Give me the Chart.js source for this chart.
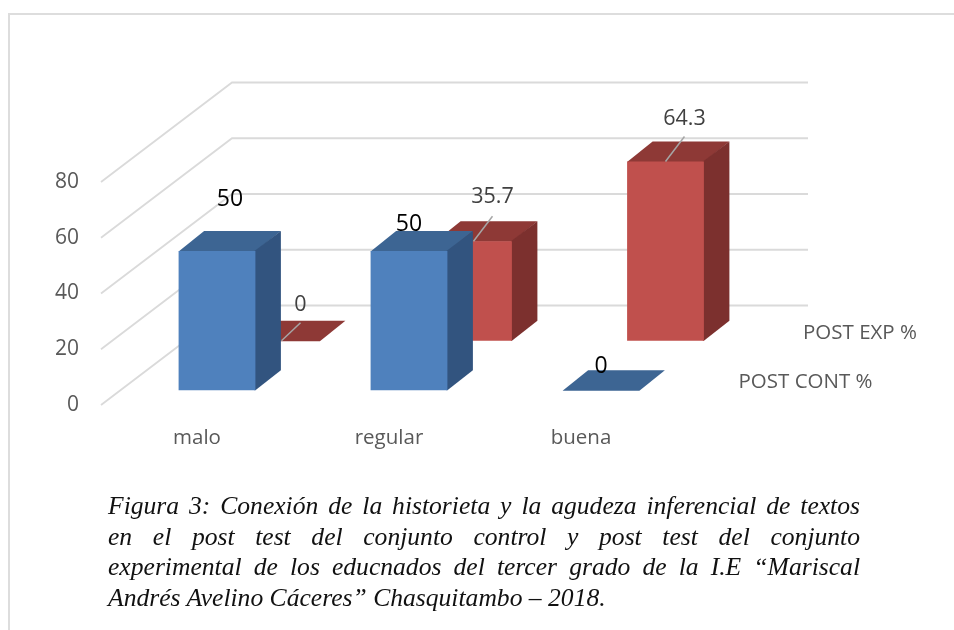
<!DOCTYPE html>
<html lang="es">
<head>
<meta charset="utf-8">
<script src="https://cdn.jsdelivr.net/npm/chart.js@4/dist/chart.umd.min.js"></script>
<style>
html,body{margin:0;padding:0;background:#fff;width:954px;height:630px;overflow:hidden}
#frame{position:absolute;left:8px;top:13px;right:0;bottom:0;border-left:2px solid #dddddd;border-top:2px solid #dddddd}
canvas{position:absolute;left:0;top:0}
#caption{position:absolute;left:108px;top:491px;width:752px;font:italic 25.6px/30.6px "Liberation Serif",serif;color:#111}
#caption div{text-align:justify;text-align-last:justify;white-space:nowrap}
#caption div:last-child{text-align-last:left}
</style>
</head>
<body>
<div id="frame"></div>
<canvas id="c" width="954" height="630"></canvas>
<div id="caption">
<div>Figura 3: Conexión de la historieta y la agudeza inferencial de textos</div>
<div>en el post test del conjunto control y post test del conjunto</div>
<div>experimental de los educnados del tercer grado de la I.E “Mariscal</div>
<div>Andrés Avelino Cáceres” Chasquitambo – 2018.</div>
</div>
<script>
const categories = ["malo", "regular", "buena"];
const postCont = [50, 50, 0];
const postExp = [0, 35.7, 64.3];
const yTicks = [0, 20, 40, 60, 80];
const seriesNames = ["POST CONT %", "POST EXP %"];

const wall = {dx: 131, dy: -99.5};
const barDepth = {dx: 25.5, dy: -20};
const styles = [
  {shift: {dx: 20, dy: -14.7}, front: "#4F81BD", side: "#32547F", top: "#3D6593", label: "#000000"},
  {shift: {dx: 84.5, dy: -64.3}, front: "#C0504D", side: "#7C302E", top: "#8E3936", label: "#404040"}
];
// Label offsets from the top-centre of each bar's front face
const labelOffsets = [
  [{x: 13, y: -51, }, {x: 0, y: -26}, {x: 0, y: -24}],
  [{x: 19, y: -36, lx: 19, ly: -18}, {x: 19, y: -44, lx: 19, ly: -25}, {x: 19, y: -43, lx: 19, ly: -25}]
];
const FONT = '"Open Sans", sans-serif';
const GREY = "#595959";

const bars3d = {
  id: "bars3d",
  beforeDatasetsDraw(chart) {
    const {ctx, scales: {x, y}} = chart;
    ctx.save();
    ctx.strokeStyle = "#DADADA";
    ctx.lineWidth = 1.8;
    yTicks.forEach(t => {
      const py = y.getPixelForValue(t);
      ctx.beginPath();
      ctx.moveTo(x.left, py);
      ctx.lineTo(x.left + wall.dx, py + wall.dy);
      ctx.lineTo(x.right + wall.dx, py + wall.dy);
      ctx.stroke();
    });
    ctx.restore();
  },
  beforeDatasetDraw(chart, args) {
    const {ctx} = chart;
    const st = styles[args.index];
    ctx.save();
    ctx.translate(st.shift.dx, st.shift.dy);
    args.meta.data.forEach(bar => {
      const p = bar.getProps(["x", "y", "base", "width"], true);
      const l = p.x - p.width / 2, r = p.x + p.width / 2;
      ctx.fillStyle = st.top;
      ctx.beginPath();
      ctx.moveTo(l, p.y + 0.5);
      ctx.lineTo(r, p.y + 0.5);
      ctx.lineTo(r + barDepth.dx, p.y + barDepth.dy);
      ctx.lineTo(l + barDepth.dx, p.y + barDepth.dy);
      ctx.closePath();
      ctx.fill();
      if (p.base - p.y > 0.5) {
        ctx.fillStyle = st.side;
        ctx.beginPath();
        ctx.moveTo(r - 1, p.y);
        ctx.lineTo(r + barDepth.dx, p.y + barDepth.dy);
        ctx.lineTo(r + barDepth.dx, p.base + barDepth.dy);
        ctx.lineTo(r, p.base);
        ctx.lineTo(r - 1, p.base);
        ctx.closePath();
        ctx.fill();
      }
    });
  },
  afterDatasetDraw(chart) {
    chart.ctx.restore();
  },
  afterDatasetsDraw(chart) {
    const {ctx, scales: {x}} = chart;
    ctx.save();
    ctx.textAlign = "center";
    ctx.textBaseline = "middle";
    chart.data.datasets.forEach((ds, i) => {
      const st = styles[i];
      chart.getDatasetMeta(i).data.forEach((bar, j) => {
        const p = bar.getProps(["x", "y"], true);
        const cx = p.x + st.shift.dx, cy = p.y + st.shift.dy;
        const o = labelOffsets[i][j];
        if (o.lx !== undefined) {
          ctx.strokeStyle = "#A6A6A6";
          ctx.lineWidth = 1.5;
          ctx.beginPath();
          ctx.moveTo(cx, cy);
          ctx.lineTo(cx + o.lx, cy + o.ly);
          ctx.stroke();
        }
        ctx.fillStyle = st.label;
        ctx.font = (i === 0 ? "23px " : "21.5px ") + FONT;
        ctx.fillText(String(ds.data[j]), cx + o.x, cy + o.y);
      });
      const base = chart.scales.y.getPixelForValue(0) + st.shift.dy;
      ctx.textAlign = "left";
      ctx.fillStyle = GREY;
      ctx.font = "20.5px " + FONT;
      ctx.fillText(ds.label, x.right + st.shift.dx + 41.5, base - 8);
      ctx.textAlign = "center";
    });
    ctx.restore();
  }
};

new Chart(document.getElementById("c"), {
  type: "bar",
  data: {
    labels: categories,
    datasets: [
      {label: seriesNames[0], data: postCont, backgroundColor: styles[0].front, grouped: false, clip: false},
      {label: seriesNames[1], data: postExp, backgroundColor: styles[1].front, grouped: false, clip: false}
    ]
  },
  options: {
    responsive: false,
    animation: false,
    barPercentage: 0.4,
    categoryPercentage: 1,
    layout: {padding: {top: 182, right: 277, left: 0, bottom: 0}},
    plugins: {legend: {display: false}, tooltip: {enabled: false}},
    scales: {
      x: {
        grid: {display: false},
        border: {display: false},
        afterFit(s) { s.height = 225; },
        ticks: {color: GREY, font: {family: '"Open Sans"', size: 20.5}, padding: 13, maxRotation: 0}
      },
      y: {
        min: 0, max: 80,
        grid: {display: false},
        border: {display: false},
        afterFit(s) { s.width = 101; },
        afterBuildTicks(s) { s.ticks = yTicks.map(v => ({value: v})); },
        ticks: {color: GREY, font: {family: '"Open Sans"', size: 21}, padding: 14}
      }
    }
  },
  plugins: [bars3d]
});
</script>
</body>
</html>
